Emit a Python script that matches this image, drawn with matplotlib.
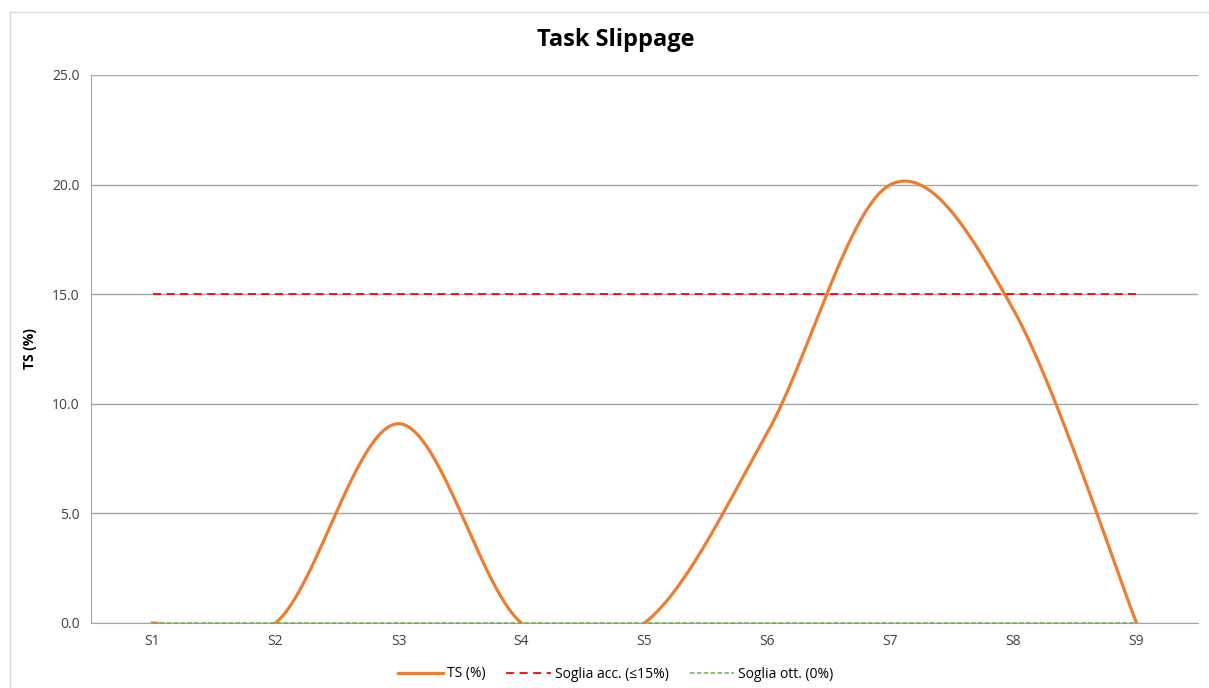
import numpy as np
import matplotlib
matplotlib.use("Agg")
import matplotlib.pyplot as plt
from matplotlib.patches import Rectangle

plt.rcParams['font.family'] = ['Open Sans', 'DejaVu Sans']

categories = ["S1", "S2", "S3", "S4", "S5", "S6", "S7", "S8", "S9"]
ts_values = [0.0, 0.0, 9.09, 0.0, 0.0, 8.7, 20.0, 14.29, 0.0]
soglia_acc = [15.0] * 9
soglia_ott = [0.0] * 9


def smooth(xs, ys, n=60):
    # spline in stile Excel (Bezier con tangenti di Catmull-Rom)
    xs = np.asarray(xs, float)
    ys = np.asarray(ys, float)
    px, py = [], []
    for i in range(len(xs) - 1):
        i0 = max(i - 1, 0)
        i3 = min(i + 2, len(xs) - 1)
        p0 = np.array([xs[i], ys[i]])
        p3 = np.array([xs[i + 1], ys[i + 1]])
        c1 = p0 + (np.array([xs[i + 1], ys[i + 1]]) - np.array([xs[i0], ys[i0]])) / 6
        c2 = p3 - (np.array([xs[i3], ys[i3]]) - np.array([xs[i], ys[i]])) / 6
        t = np.linspace(0, 1, n)[:, None]
        pts = ((1 - t) ** 3) * p0 + 3 * ((1 - t) ** 2) * t * c1 + 3 * (1 - t) * t ** 2 * c2 + t ** 3 * p3
        px.extend(pts[:, 0])
        py.extend(pts[:, 1])
    return np.array(px), np.array(py)


fig = plt.figure(figsize=(12.09, 6.88), dpi=100)
fig.patches.append(Rectangle((10 / 1209, -0.1), 1.2, 1 - 12 / 688 + 0.1, transform=fig.transFigure,
                             fill=False, edgecolor="#d9d9d9", linewidth=1))
ax = fig.add_axes([91 / 1209, 1 - 623 / 688, (1198 - 91) / 1209, (623 - 75) / 688])

x = np.arange(1, len(categories) + 1)
sx, sy = smooth(x, ts_values)
ax.plot(sx, sy, color="#ED7D31", linewidth=2.3, label="TS (%)", zorder=3)
ax.plot(x, soglia_acc, color="#FF0000", linewidth=1.3, linestyle=(0, (4.5, 3)), label="Soglia acc. (≤15%)", zorder=4)
ax.plot(x, soglia_ott, color="#70AD47", linewidth=1.1, linestyle=(0, (3, 1.5)), label="Soglia ott. (0%)",
        zorder=4, clip_on=False)

ax.set_xlim(0.5, len(categories) + 0.5)
ax.set_ylim(0, 25)
ax.set_yticks(np.arange(0, 26, 5))
ax.set_yticklabels([f"{v:.1f}" for v in np.arange(0, 26, 5)])
ax.set_xticks(x)
ax.set_xticklabels(categories)
ax.tick_params(length=0, labelsize=10, colors="#404040", pad=8)
ax.grid(axis="y", color="#a6a6a6", linewidth=1)
ax.set_axisbelow(True)
for s in ["top", "right"]:
    ax.spines[s].set_visible(False)
for s in ["left", "bottom"]:
    ax.spines[s].set_color("#a6a6a6")

ax.set_ylabel("TS (%)", fontsize=10, fontweight="bold")
ax.yaxis.set_label_coords(-54 / 1107, 0.5)
fig.text(616 / 1209, 1 - 40 / 688, "Task Slippage", ha="center", va="center", fontsize=17, fontweight="bold")

fig.legend(loc="center", bbox_to_anchor=(616 / 1209, 1 - 674 / 688), ncol=3, frameon=False,
           fontsize=10, handlelength=3.2, columnspacing=1.5, handletextpad=0.3)

fig.savefig("out.png", dpi=100)
